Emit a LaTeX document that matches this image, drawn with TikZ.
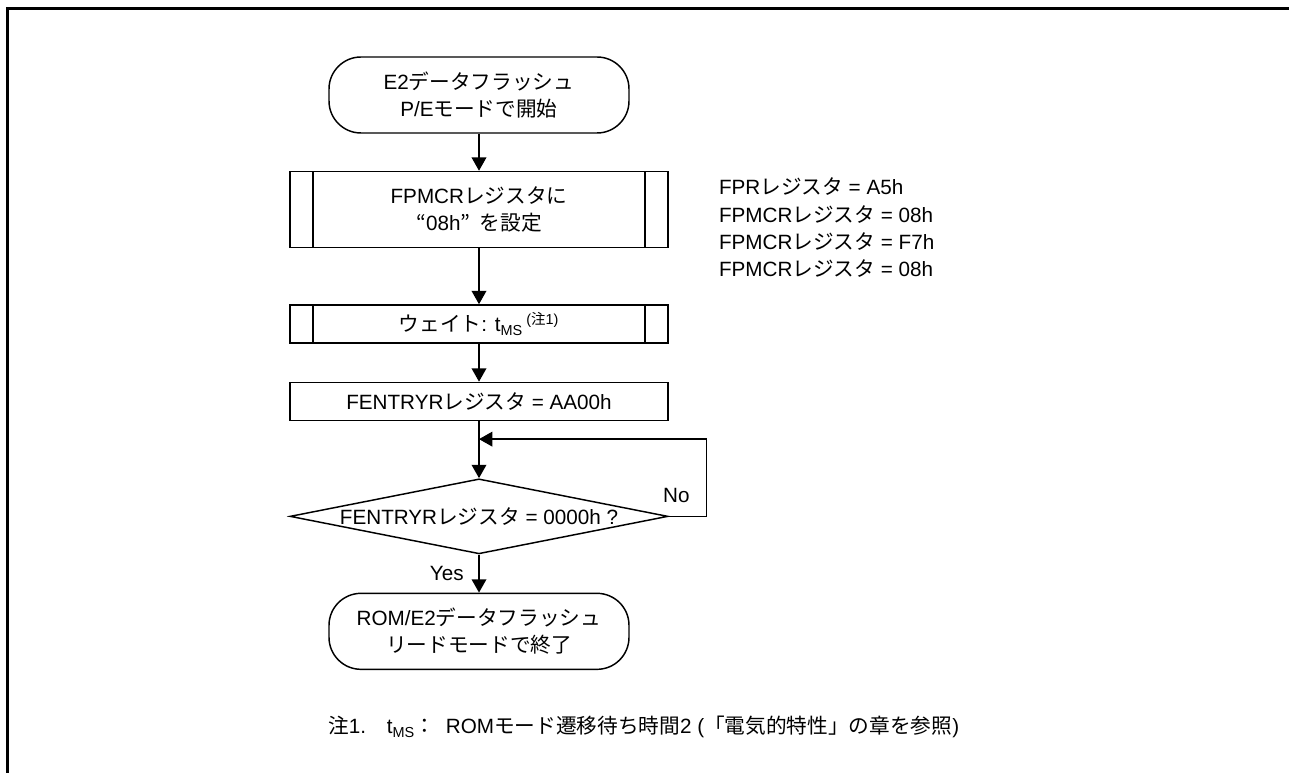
\documentclass[tikz,border=0pt]{standalone}
\usepackage{fontspec}
\setmainfont{Liberation Sans}
\newfontfamily\jpfont{Noto Sans CJK JP}
\usetikzlibrary{arrows.meta,positioning,shapes.geometric}
\newcommand{\ja}[1]{{\jpfont #1}}
\newcommand{\chartfont}{\fontsize{15.5pt}{20.5pt}\selectfont}

\begin{document}
\begin{tikzpicture}[node distance=28.5pt, every node/.style={font=\chartfont},
  terminal/.style={draw, line width=1.1pt, rounded corners=24pt, minimum width=225pt, minimum height=57pt, align=center},
  procbox/.style={draw, line width=1.1pt, minimum width=283.5pt, minimum height=28.5pt, align=center, inner sep=0pt},
  subproc/.style={procbox, path picture={
    \draw[line width=1.1pt] ([xshift=17.25pt]path picture bounding box.north west) -- ([xshift=17.25pt]path picture bounding box.south west);
    \draw[line width=1.1pt] ([xshift=-17.25pt]path picture bounding box.north east) -- ([xshift=-17.25pt]path picture bounding box.south east);}},
  decision/.style={draw, line width=1.1pt, shape=diamond, minimum width=283.5pt, minimum height=56.25pt, inner sep=0pt},
  flow/.style={-{Triangle[length=10pt, width=11pt]}, line width=1.1pt},
  notetext/.style={inner sep=0pt}]
\useasboundingbox (0,0) rectangle (966.75pt,-579.75pt);
% frame
\draw[line width=2.25pt] (966.75pt,-6.4pt) -- (5.6pt,-6.4pt) -- (5.6pt,-579.75pt);
\node[terminal] (start) at (359.25pt,-71.25pt) {E2\ja{データフラッシュ}\\P/E\ja{モードで開始}};
\node[subproc, minimum height=57pt, below=27.75pt of start] (fpmcr) {FPMCR\ja{レジスタに}\\\ja{“}08h\ja{”}\hspace{0.45em}\ja{を設定}};
\node[notetext, align=left, right=37.5pt of fpmcr, yshift=-13.9pt] (regs) {FPR\ja{レジスタ} = A5h\\FPMCR\ja{レジスタ} = 08h\\FPMCR\ja{レジスタ} = F7h\\FPMCR\ja{レジスタ} = 08h};
\node[subproc, below=42pt of fpmcr] (wait) {\ja{ウェイト}: t\textsubscript{MS}\,\textsuperscript{(\ja{注}1)}};
\node[procbox, below=28.5pt of wait] (fent) {FENTRYR\ja{レジスタ} = AA00h};
\node[decision, below=42.75pt of fent, label={center:FENTRYR\ja{レジスタ} = 0000h ?}] (chk) {};
\node[terminal, below=28.5pt of chk] (finish) {ROM/E2\ja{データフラッシュ}\\\ja{リードモードで終了}};
\node[notetext, anchor=west] (note) at (246pt,-545.25pt) {\ja{注}1.\ja{　}t\textsubscript{MS}\ja{：}\hspace{0.5em}ROM\ja{モード遷移待ち時間}2 (\ja{「電気的特性」の章を参照})};
\coordinate[below=13.5pt of fent] (join);
% connectors
\draw[flow] (start) -- (fpmcr);
\draw[flow] (fpmcr) -- (wait);
\draw[flow] (wait) -- (fent);
\draw[flow] (fent) -- (chk);
\draw[flow] (chk.east) -- ++(28.5pt,0) node[pos=0.2, above=10pt, notetext] {No} |- (join);
\draw[flow] (chk) -- node[midway, left=11pt, notetext] {Yes} (finish);
\end{tikzpicture}
\end{document}
